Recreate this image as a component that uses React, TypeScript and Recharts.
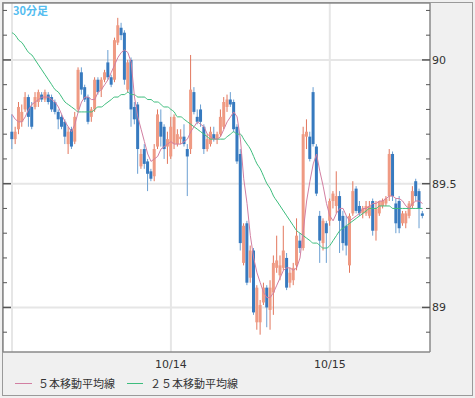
import { ComposedChart, Bar, Line, XAxis, YAxis, CartesianGrid } from 'recharts';

// 30分足 USD/JPY, 10/13 夜 〜 10/15
const OPEN = [
  89.71, 89.68, 89.72, 89.75, 89.80, 89.85, 89.81, 89.81, 89.83, 89.86,
  89.84, 89.86, 89.85, 89.83, 89.79, 89.77, 89.75, 89.66, 89.72, 89.67,
  89.80, 89.95, 89.89, 89.85, 89.77, 89.80, 89.92, 89.88, 89.92, 89.99,
  89.93, 89.92, 90.07, 90.13, 90.11, 89.88, 90.00, 89.81, 89.82, 89.57,
  89.64, 89.59, 89.55, 89.53, 89.65, 89.75, 89.73, 89.65, 89.61, 89.66,
  89.66, 89.68, 89.69, 89.64, 89.64, 89.87, 89.77, 89.80, 89.73, 89.64,
  89.66, 89.70, 89.68, 89.70, 89.73, 89.81, 89.84, 89.83, 89.73, 89.62,
  89.18, 89.34, 89.12, 89.23, 88.94, 88.94, 89.02, 89.08, 88.99, 89.06,
  89.16, 89.13, 89.16, 89.20, 89.10, 89.11, 89.17, 89.27, 89.24, 89.69,
  89.69, 89.87, 89.65, 89.37, 89.26, 89.34, 89.35, 89.43, 89.41, 89.45,
  89.37, 89.33, 89.17, 89.38, 89.48, 89.41, 89.38, 89.38, 89.37, 89.43,
  89.31, 89.38, 89.41, 89.42, 89.45, 89.62, 89.42, 89.43, 89.34, 89.34,
  89.37, 89.41, 89.51, 89.47, 89.38,
];
const HIGH = [
  89.78, 89.73, 89.83, 89.82, 89.87, 89.86, 89.83, 89.87, 89.88, 89.87,
  89.88, 89.87, 89.86, 89.84, 89.80, 89.78, 89.76, 89.73, 89.73, 89.79,
  89.97, 89.97, 89.90, 89.86, 89.81, 89.93, 89.93, 89.93, 89.96, 90.04,
  89.94, 90.09, 90.17, 90.15, 90.12, 90.00, 90.01, 89.83, 89.83, 89.64,
  89.66, 89.60, 89.56, 89.66, 89.80, 89.80, 89.74, 89.71, 89.77, 89.78,
  89.72, 89.72, 89.74, 89.66, 90.02, 89.89, 89.80, 89.82, 89.74, 89.70,
  89.73, 89.73, 89.71, 89.80, 89.85, 89.86, 89.87, 89.84, 89.74, 89.64,
  89.34, 89.35, 89.25, 89.24, 89.09, 89.03, 89.10, 89.09, 89.11, 89.21,
  89.29, 89.21, 89.33, 89.22, 89.16, 89.18, 89.36, 89.30, 89.73, 89.76,
  89.71, 89.89, 89.66, 89.39, 89.36, 89.35, 89.44, 89.47, 89.55, 89.47,
  89.39, 89.37, 89.38, 89.51, 89.49, 89.43, 89.41, 89.43, 89.43, 89.44,
  89.43, 89.43, 89.44, 89.45, 89.64, 89.63, 89.44, 89.45, 89.39, 89.39,
  89.43, 89.49, 89.52, 89.48, 89.39,
];
const LOW = [
  89.64, 89.66, 89.70, 89.73, 89.79, 89.73, 89.72, 89.80, 89.81, 89.83,
  89.83, 89.82, 89.79, 89.78, 89.72, 89.72, 89.66, 89.62, 89.64, 89.66,
  89.79, 89.86, 89.83, 89.74, 89.75, 89.79, 89.86, 89.85, 89.91, 89.92,
  89.89, 89.91, 90.06, 90.08, 89.90, 89.87, 89.73, 89.74, 89.54, 89.56,
  89.56, 89.47, 89.51, 89.51, 89.64, 89.65, 89.60, 89.58, 89.60, 89.64,
  89.65, 89.66, 89.65, 89.45, 89.62, 89.78, 89.74, 89.73, 89.62, 89.63,
  89.65, 89.67, 89.66, 89.69, 89.72, 89.79, 89.81, 89.71, 89.58, 89.23,
  89.17, 89.09, 89.10, 88.97, 88.91, 88.89, 89.01, 88.92, 88.91, 88.97,
  89.14, 89.11, 89.15, 89.07, 89.08, 89.09, 89.15, 89.22, 89.23, 89.64,
  89.59, 89.65, 89.45, 89.18, 89.23, 89.18, 89.33, 89.40, 89.38, 89.22,
  89.23, 89.21, 89.14, 89.37, 89.38, 89.37, 89.36, 89.37, 89.36, 89.29,
  89.27, 89.37, 89.40, 89.41, 89.43, 89.43, 89.30, 89.30, 89.33, 89.32,
  89.36, 89.40, 89.43, 89.32, 89.36,
];
const CLOSE = [
  89.68, 89.71, 89.81, 89.79, 89.85, 89.77, 89.73, 89.85, 89.87, 89.84,
  89.87, 89.83, 89.80, 89.79, 89.76, 89.73, 89.69, 89.71, 89.65, 89.77,
  89.96, 89.88, 89.84, 89.75, 89.80, 89.92, 89.87, 89.92, 89.95, 89.93,
  89.90, 90.08, 90.14, 90.10, 89.92, 89.99, 89.80, 89.76, 89.64, 89.62,
  89.58, 89.54, 89.52, 89.64, 89.78, 89.69, 89.64, 89.68, 89.73, 89.77,
  89.70, 89.69, 89.66, 89.61, 89.88, 89.79, 89.75, 89.75, 89.64, 89.68,
  89.71, 89.68, 89.70, 89.77, 89.83, 89.84, 89.82, 89.72, 89.59, 89.26,
  89.33, 89.10, 89.23, 88.98, 89.08, 89.01, 89.08, 89.00, 89.08, 89.18,
  89.19, 89.17, 89.23, 89.08, 89.14, 89.16, 89.29, 89.24, 89.70, 89.71,
  89.60, 89.66, 89.46, 89.27, 89.35, 89.30, 89.43, 89.46, 89.45, 89.35,
  89.26, 89.25, 89.37, 89.47, 89.39, 89.38, 89.40, 89.41, 89.41, 89.31,
  89.40, 89.43, 89.43, 89.44, 89.62, 89.45, 89.34, 89.32, 89.38, 89.38,
  89.42, 89.47, 89.45, 89.40, 89.37,
];
const MA5 = [
  89.78, 89.76, 89.75, 89.75, 89.77, 89.80, 89.82, 89.83, 89.84, 89.85,
  89.85, 89.85, 89.84, 89.83, 89.81, 89.78, 89.75, 89.73, 89.71, 89.74,
  89.79, 89.83, 89.85, 89.85, 89.84, 89.84, 89.87, 89.88, 89.90, 89.92,
  89.95, 89.98, 90.01, 90.03, 90.04, 90.03, 89.99, 89.85, 89.77, 89.72,
  89.67, 89.62, 89.59, 89.60, 89.61, 89.64, 89.65, 89.66, 89.67, 89.66,
  89.66, 89.66, 89.67, 89.68, 89.71, 89.73, 89.75, 89.74, 89.73, 89.70,
  89.69, 89.68, 89.68, 89.69, 89.72, 89.75, 89.77, 89.79, 89.77, 89.68,
  89.52, 89.42, 89.29, 89.20, 89.14, 89.10, 89.06, 89.04, 89.04, 89.06,
  89.09, 89.12, 89.15, 89.16, 89.16, 89.15, 89.16, 89.20, 89.31, 89.43,
  89.51, 89.58, 89.62, 89.55, 89.49, 89.42, 89.37, 89.35, 89.38, 89.40,
  89.40, 89.37, 89.35, 89.36, 89.37, 89.38, 89.40, 89.40, 89.41, 89.42,
  89.42, 89.43, 89.43, 89.44, 89.45, 89.45, 89.44, 89.44, 89.43, 89.41,
  89.40, 89.42, 89.43, 89.43, 89.42,
];
const MA25 = [
  90.11, 90.10, 90.08, 90.07, 90.05, 90.03, 90.02, 90.00, 89.98, 89.96,
  89.94, 89.92, 89.90, 89.88, 89.87, 89.85, 89.83, 89.82, 89.81, 89.80,
  89.79, 89.79, 89.79, 89.79, 89.79, 89.80, 89.81, 89.81, 89.82, 89.83,
  89.84, 89.85, 89.85, 89.86, 89.86, 89.87, 89.86, 89.86, 89.85, 89.85,
  89.85, 89.84, 89.84, 89.83, 89.83, 89.82, 89.81, 89.81, 89.80, 89.79,
  89.77, 89.77, 89.76, 89.75, 89.74, 89.73, 89.72, 89.71, 89.70, 89.69,
  89.68, 89.68, 89.68, 89.68, 89.68, 89.69, 89.70, 89.71, 89.70, 89.70,
  89.68, 89.66, 89.64, 89.61, 89.58, 89.56, 89.53, 89.50, 89.48, 89.45,
  89.43, 89.41, 89.39, 89.37, 89.35, 89.33, 89.31, 89.30, 89.29, 89.28,
  89.27, 89.26, 89.26, 89.25, 89.24, 89.24, 89.25, 89.27, 89.29, 89.31,
  89.32, 89.33, 89.34, 89.35, 89.36, 89.37, 89.38, 89.39, 89.40, 89.40,
  89.40, 89.41, 89.41, 89.41, 89.41, 89.40, 89.40, 89.40, 89.40, 89.40,
  89.40, 89.40, 89.40, 89.40, 89.40,
];

const X_TICKS = [0, 48, 96];
const X_LABELS: Record<number, string> = { 0: '', 48: '10/14', 96: '10/15' };
const Y_TICKS = [88.9, 89, 89.1, 89.2, 89.3, 89.4, 89.5, 89.6, 89.7, 89.8, 89.9, 90, 90.1, 90.2];
const Y_LABELS: Record<string, string> = { '89': '89', '89.5': '89.5', '90': '90' };
const GRID_Y = [89, 89.5, 90];

const UP_BODY = '#ef9a83';
const UP_WICK = '#e2775d';
const DOWN_BODY = '#377abf';
const DOWN_WICK = '#6a9fd2';
const MA5_COLOR = '#d27fa2';
const MA25_COLOR = '#3dbd7d';
const FONT = '"DejaVu Sans", Verdana, sans-serif';
const JP_FONT = '"Noto Sans CJK JP", "DejaVu Sans", sans-serif';

const data = CLOSE.map((close, i) => ({
  i,
  open: OPEN[i],
  high: HIGH[i],
  low: LOW[i],
  close,
  ma5: MA5[i],
  ma25: MA25[i],
}));

function Candle(props: any) {
  const { x, y, width, height } = props;
  const d = props.payload ?? props;
  const { open, close, high, low } = d;
  const cx = x + width / 2;
  const top = Math.min(y, y + height);
  const bottom = Math.max(y, y + height);
  const px = (v: number) => top + ((high - v) / (high - low || 1)) * (bottom - top);
  const up = close >= open;
  const b1 = px(Math.max(open, close));
  const b2 = px(Math.min(open, close));
  return (
    <g>
      <line x1={cx} x2={cx} y1={top} y2={bottom} stroke={up ? UP_WICK : DOWN_WICK} strokeWidth={1} />
      <rect x={cx - 1.5} y={b1} width={3} height={Math.max(1, b2 - b1)} fill={up ? UP_BODY : DOWN_BODY} />
    </g>
  );
}

function RightTick({ x, y, payload }: any) {
  const label = Y_LABELS[String(payload.value)];
  const len = label ? 8 : 4;
  return (
    <g>
      <line x1={x - len} x2={x} y1={y} y2={y} stroke="#555" strokeWidth={label ? 1.5 : 1} />
      {label && (
        <text x={x + 2} y={y + 4} fontSize={11} fill="#333" fontFamily={FONT}>{label}</text>
      )}
    </g>
  );
}

function LeftTick({ x, y, payload }: any) {
  const major = Y_LABELS[String(payload.value)] !== undefined;
  return <line x1={x} x2={x + (major ? 8 : 4)} y1={y} y2={y} stroke="#555" strokeWidth={major ? 1.5 : 1} />;
}

function BottomTick({ x, y, payload }: any) {
  return (
    <text x={x} y={y + 16} textAnchor="middle" fontSize={11} fill="#333" fontFamily={FONT}>
      {X_LABELS[payload.value] ?? ''}
    </text>
  );
}

export default function App() {
  return (
    <div style={{ position: 'absolute', left: 0, top: 0, width: 475, height: 398, background: '#f0f0f0' }}>
      <div style={{ position: 'absolute', left: 2, top: 2, width: 471, height: 394, border: '1px solid #9a9a9a', boxSizing: 'border-box' }} />
      <ComposedChart width={475} height={398} data={data} margin={{ top: 2, right: 0, bottom: 0, left: 2 }}>
        <CartesianGrid
          xAxisId="b"
          yAxisId="r"
          fill="#fff"
          stroke="#e6e6e6"
          strokeWidth={2}
          horizontalValues={GRID_Y}
          verticalValues={X_TICKS}
        />
        <XAxis
          xAxisId="b"
          dataKey="i"
          type="number"
          domain={[-2.72, 126.27]}
          allowDataOverflow
          ticks={X_TICKS}
          tick={<BottomTick />}
          tickLine={false}
          tickSize={0}
          tickMargin={0}
          height={46}
          axisLine={{ stroke: '#8a8a8a', strokeWidth: 1.5 }}
        />
        <XAxis
          xAxisId="t"
          orientation="top"
          type="number"
          domain={[0, 1]}
          height={1}
          tick={false}
          tickLine={false}
          axisLine={{ stroke: '#8a8a8a', strokeWidth: 1.5 }}
        />
        <YAxis
          yAxisId="r"
          orientation="right"
          type="number"
          domain={[88.82, 90.23]}
          allowDataOverflow
          ticks={Y_TICKS}
          interval={0}
          tick={<RightTick />}
          tickLine={false}
          tickSize={0}
          tickMargin={0}
          width={45}
          axisLine={{ stroke: '#8a8a8a', strokeWidth: 1.5 }}
        />
        <YAxis
          yAxisId="l"
          orientation="left"
          type="number"
          domain={[88.82, 90.23]}
          allowDataOverflow
          ticks={Y_TICKS}
          interval={0}
          tick={<LeftTick />}
          tickLine={false}
          tickSize={0}
          tickMargin={0}
          width={1}
          axisLine={{ stroke: '#8a8a8a', strokeWidth: 1.5 }}
        />
        <Bar
          xAxisId="b"
          yAxisId="r"
          dataKey={(d: any) => [d.low, d.high]}
          barSize={3}
          shape={<Candle />}
          isAnimationActive={false}
        />
        <Line xAxisId="b" yAxisId="r" type="monotone" dataKey="ma25" stroke={MA25_COLOR} strokeWidth={1} dot={false} isAnimationActive={false} />
        <Line xAxisId="b" yAxisId="r" type="linear" dataKey="ma5" stroke={MA5_COLOR} strokeWidth={1} dot={false} isAnimationActive={false} />
      </ComposedChart>
      <div style={{ position: 'absolute', left: 13, top: 3, color: '#55bdf0', fontSize: 11, fontWeight: 'bold', fontFamily: JP_FONT, lineHeight: '14px' }}>
        30分足
      </div>
      <div style={{ position: 'absolute', left: 15, top: 383, width: 17, height: 1, background: MA5_COLOR }} />
      <div style={{ position: 'absolute', left: 38, top: 375, fontSize: 11, color: '#333', fontFamily: JP_FONT, lineHeight: '16px' }}>
        ５本移動平均線
      </div>
      <div style={{ position: 'absolute', left: 127, top: 383, width: 16, height: 1, background: MA25_COLOR }} />
      <div style={{ position: 'absolute', left: 150, top: 375, fontSize: 11, color: '#333', fontFamily: JP_FONT, lineHeight: '16px' }}>
        ２５本移動平均線
      </div>
    </div>
  );
}
